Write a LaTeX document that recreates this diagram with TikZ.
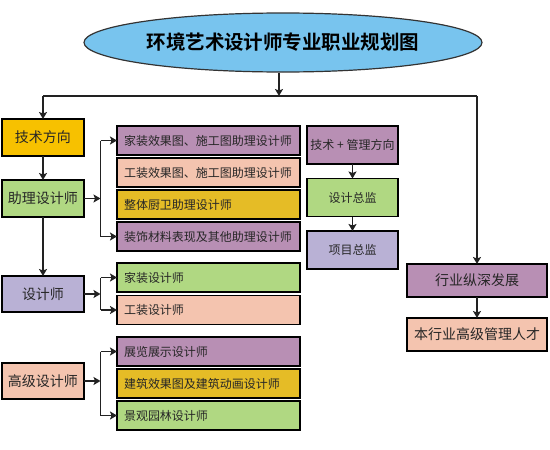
\documentclass[tikz,border=0pt]{standalone}
\usepackage{fontspec}
\setmainfont{Noto Sans CJK SC}
\newfontfamily\cjkbold[BoldFont=* Bold]{Noto Sans CJK SC}
\usetikzlibrary{arrows.meta,shapes.geometric}
\definecolor{cblue}{HTML}{78C4EE}
\definecolor{cgold}{HTML}{F7C100}
\definecolor{cgreen}{HTML}{B0D882}
\definecolor{cpurple}{HTML}{B88FB4}
\definecolor{csalmon}{HTML}{F4C4AF}
\definecolor{cmustard}{HTML}{E5BC26}
\definecolor{clav}{HTML}{B9B1D5}
\definecolor{cline}{HTML}{222222}
\tikzset{
  box/.style={draw=black, line width=1.2pt, rectangle, inner sep=0pt, outer sep=0pt, text=black!85},
  lbox/.style={box, minimum width=82pt, minimum height=37pt, font=\fontsize{14pt}{16pt}\selectfont},
  rbox/.style={box, minimum width=183pt, minimum height=29pt, text width=169pt, align=left, inner xsep=7pt, font=\fontsize{12pt}{14pt}\selectfont},
  mbox/.style={box, minimum width=91pt, minimum height=38pt, font=\fontsize{12pt}{14pt}\selectfont},
  hbox/.style={box, minimum width=140pt, minimum height=33pt, font=\fontsize{14pt}{16pt}\selectfont},
  conn/.style={draw=cline, line width=1.5pt},
  arr/.style={conn, -{Stealth[length=7pt,width=8pt,inset=1.5pt]}},
}
\begin{document}
\begin{tikzpicture}[x=1pt,y=-1pt]
\useasboundingbox (0,0) rectangle (550,450);
\node[ellipse, draw=black!80, line width=1.2pt, fill=cblue, minimum width=398pt, minimum height=59pt, inner sep=0pt, font=\cjkbold\bfseries\fontsize{19.5pt}{22pt}\selectfont] (title) at (283,42.5) {环境艺术设计师专业职业规划图};

\node[lbox, fill=cgold] (t1) at (43,137.5) {技术方向};
\node[lbox, fill=cgreen] (a1) at (43,198.5) {助理设计师};
\node[lbox, fill=clav, minimum height=36pt] (d1) at (43,294) {设计师};
\node[lbox, fill=csalmon, minimum height=36pt] (g1) at (43,381) {高级设计师};

\node[rbox, fill=cpurple] (r1) at (208.5,140.5) {家装效果图、施工图助理设计师};
\node[rbox, fill=csalmon] (r2) at (208.5,172.5) {工装效果图、施工图助理设计师};
\node[rbox, fill=cmustard] (r3) at (208.5,204.5) {整体厨卫助理设计师};
\node[rbox, fill=cpurple] (r4) at (208.5,236.5) {装饰材料表现及其他助理设计师};

\node[rbox, fill=cgreen] (s1) at (208.5,277.5) {家装设计师};
\node[rbox, fill=csalmon] (s2) at (208.5,310) {工装设计师};

\node[rbox, fill=cpurple] (u1) at (208.5,351.5) {展览展示设计师};
\node[rbox, fill=cmustard] (u2) at (208.5,383.5) {建筑效果图及建筑动画设计师};
\node[rbox, fill=cgreen] (u3) at (208.5,415.5) {景观园林设计师};

\node[mbox, fill=cpurple] (m1) at (352.5,145) {技术 + 管理方向};
\node[mbox, fill=cgreen] (m2) at (352.5,197.5) {设计总监};
\node[mbox, fill=clav] (m3) at (352.5,250) {项目总监};

\node[hbox, fill=cpurple] (h1) at (477,280.5) {行业纵深发展};
\node[hbox, fill=csalmon] (h2) at (477,334.5) {本行业高级管理人才};

% top distribution
\coordinate (j) at (279,96);
\coordinate (jl) at (43,96);
\coordinate (jr) at (477,96);
\draw[arr] (j |- title.south) -- (j);
\draw[conn] (jl) -- (jr);
\draw[arr] (jl) -- (t1.north);
\draw[arr] (jr) -- (h1.north);

% left column
\draw[arr] (t1.south) -- (a1.north);
\draw[arr] (a1.south) -- (d1.north);

% brackets
\coordinate (b1) at (100.5,198.5);
\draw[arr] (a1.east) -- (b1);
\draw[conn] (b1 |- r1.west) -- (b1 |- r4.west);
\draw[arr] (b1 |- r1.west) -- (r1.west);
\draw[arr] (b1 |- r4.west) -- (r4.west);

\coordinate (b2) at (100.5,294);
\draw[arr] (d1.east) -- (b2);
\draw[conn] (b2 |- s1.west) -- (b2 |- s2.west);
\draw[arr] (b2 |- s1.west) -- (s1.west);
\draw[arr] (b2 |- s2.west) -- (s2.west);

\coordinate (b3) at (100.5,381);
\draw[arr] (g1.east) -- (b3);
\draw[conn] (b3 |- u1.west) -- (b3 |- u3.west);
\draw[arr] (b3 |- u1.west) -- (u1.west);
\draw[arr] (b3 |- u3.west) -- (u3.west);

% middle column
\draw[arr] (m1.south) -- (m2.north);
\draw[arr] (m2.south) -- (m3.north);

% right column
\draw[arr] (h1.south) -- (h2.north);
\end{tikzpicture}
\end{document}
